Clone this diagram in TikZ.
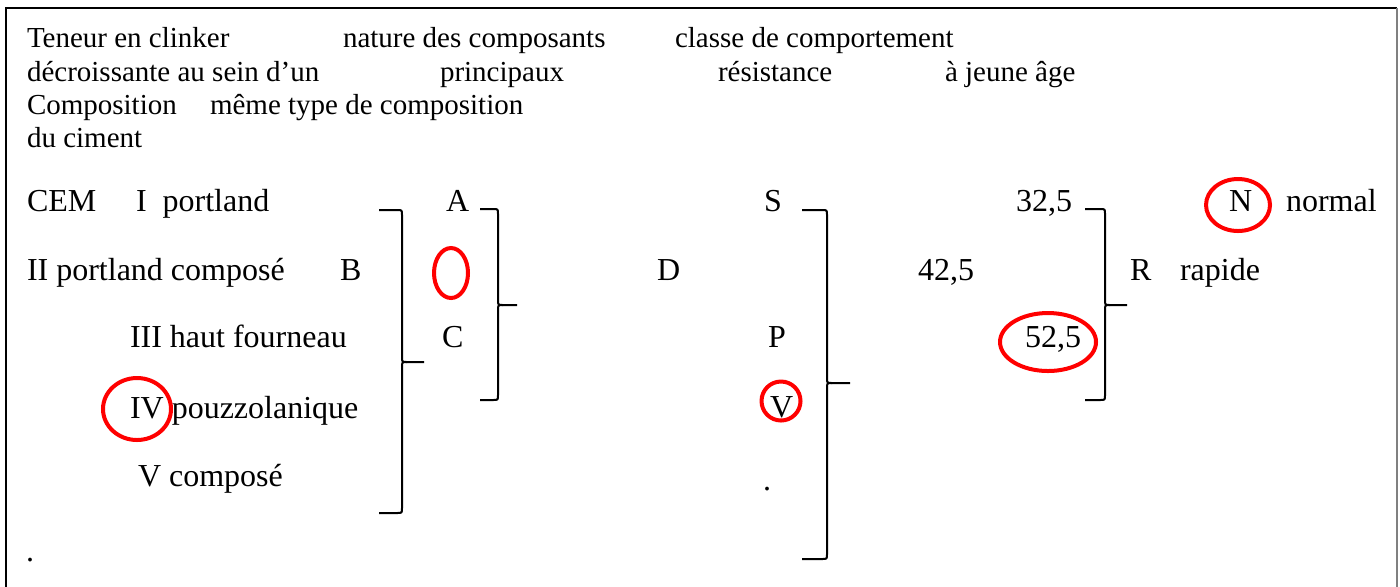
\documentclass[tikz,border=0pt]{standalone}
\usepackage{fontspec}
\setmainfont{Liberation Serif}
\usetikzlibrary{shapes.geometric}
\newcommand\mybrace[6]{%
  \draw[bracestyle] (#1,#4) -- ({#2-5},#4) .. controls (#2,#4) .. (#2,{#4+5}) -- (#2,{#5-5}) .. controls (#2,#5) .. ({#2+5},#5) -- (#3,#5);
  \draw[bracestyle] ({#2+5},#5) .. controls (#2,#5) .. (#2,{#5+5}) -- (#2,{#6-5}) .. controls (#2,#6) .. ({#2-5},#6) -- (#1,#6);
}
\tikzset{
  txt/.style={anchor=base west, inner sep=0pt, outer sep=0pt, font=\fontsize{14.5}{16}\selectfont},
  big/.style={anchor=base west, inner sep=0pt, outer sep=0pt, font=\fontsize{16}{18}\selectfont},
  bracestyle/.style={line width=1pt, black},
  redell/.style={ellipse, draw=red, line width=2pt, inner sep=0pt},
  frameline/.style={line width=1pt}
}
\begin{document}
\begin{tikzpicture}[x=0.5pt,y=-0.5pt]
\useasboundingbox (0,0) rectangle (1400,586);
% frame
\draw[frameline] (6,590) -- (6,8) -- (1397,8);
\draw[frameline, gray] (1397,8) -- (1397,590);
% header
\node[txt] (h1) at (27,47) {Teneur en clinker};
\node[txt] (h2) at (343,47) {nature des composants};
\node[txt] (h3) at (675,47) {classe de comportement};
\node[txt] (h4) at (27,81) {décroissante au sein d’un};
\node[txt] (h5) at (440,81) {principaux};
\node[txt] (h6) at (718,81) {résistance};
\node[txt] (h7) at (945,81) {à jeune âge};
\node[txt] (h8) at (27,114) {Composition};
\node[txt] (h9) at (210,114) {même type de composition};
\node[txt] (h10) at (27,147) {du ciment};
% row 1
\node[big] (cem) at (27,211) {CEM};
\node[big] (r1) at (136,211) {I\ \ portland};
\node[big] (A) at (446,211) {A};
\node[big] (S) at (764,211) {S};
\node[big] (n325) at (1016,211) {32,5};
\node[big] (N) at (1229,211) {N};
\node[big] (normal) at (1286,211) {normal};
% row 2
\node[big] (r2) at (27,280) {II portland composé};
\node[big] (B) at (340,280) {B};
\node[big] (D) at (657,280) {D};
\node[big] (n425) at (918,280) {42,5};
\node[big] (R) at (1130,280) {R};
\node[big] (rapide) at (1180,280) {rapide};
% row 3
\node[big] (r3) at (130,347) {III haut fourneau};
\node[big] (C) at (442,347) {C};
\node[big] (P) at (768,347) {P};
\node[big] (n525) at (1025,347) {52,5};
% row 4
\node[big] (r4) at (130,418) {IV pouzzolanique};
\node[big] (V2) at (770,417) {V};
% row 5
\node[big] (r5) at (138,486) {V composé};
\node[big] (dot1) at (763,490) {.};
\node[big] (dot2) at (26,561) {.};
% braces
\mybrace{379}{402}{424}{210}{362}{513}
\mybrace{480}{498}{517}{209}{305}{400}
\mybrace{802}{827}{850}{210}{383}{559}
\mybrace{1085}{1105}{1127}{209}{305}{400}
% red marks
\node[redell, minimum width=17pt, minimum height=25pt] (e1) at (451,273) {};
\node[redell, minimum width=34pt, minimum height=31pt] (e2) at (137,409) {};
\node[redell, minimum width=19.5pt, minimum height=19.5pt] (e3) at (781,401) {};
\node[redell, minimum width=32pt, minimum height=26pt] (e4) at (1238,205) {};
\node[redell, minimum width=48pt, minimum height=29pt] (e5) at (1048,342) {};
\end{tikzpicture}
\end{document}
